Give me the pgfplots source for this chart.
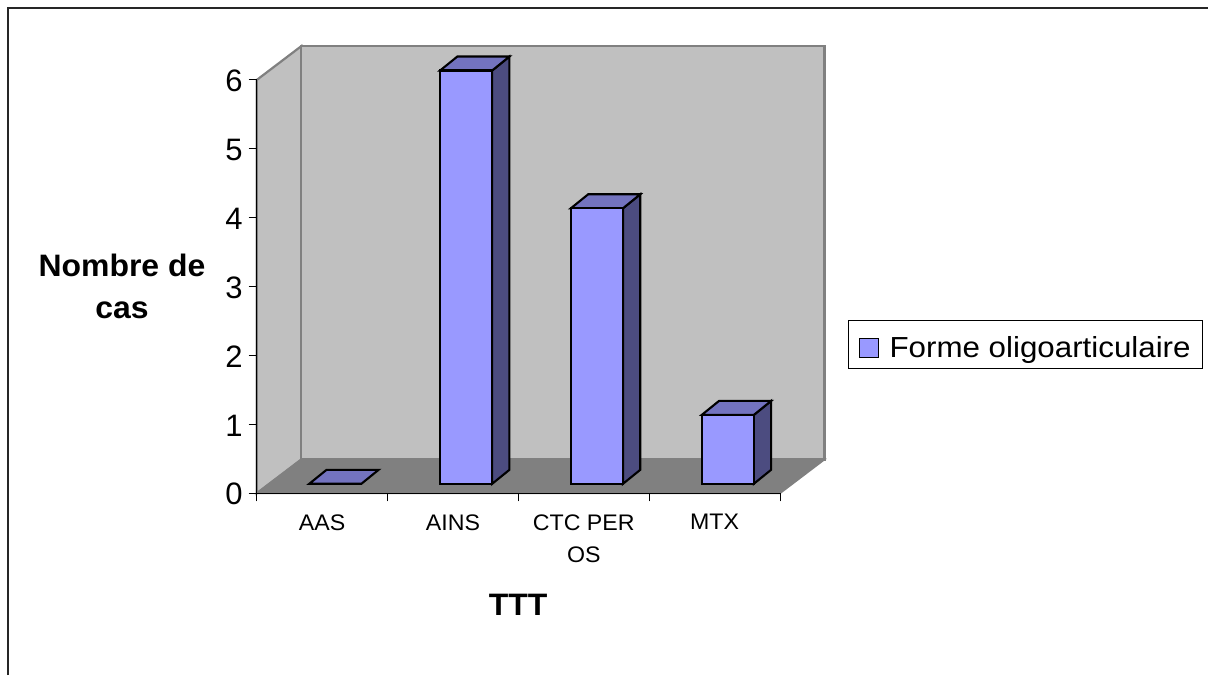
\documentclass[border=0pt]{standalone}
\usepackage{fontspec}
\setmainfont{Liberation Sans}
\newfontfamily\legfont[FakeStretch=1.08]{Liberation Sans}
\newfontfamily\catfont[FakeStretch=1.03]{Liberation Sans}
\newfontfamily\titlefont[FakeStretch=1.03]{Liberation Sans}
\usepackage{pgfplots}
\pgfplotsset{compat=1.18}

\definecolor{wall}{HTML}{C0C0C0}
\definecolor{floorgrey}{HTML}{808080}
\definecolor{barfront}{HTML}{9999FF}
\definecolor{bartop}{HTML}{7373BF}
\definecolor{barside}{HTML}{4C4C80}

\pgfplotsset{
    barface/.style={forget plot,draw=black,line width=2.1pt,xshift=13.2pt,yshift=9.5pt},
}

\begin{document}
\begin{tikzpicture}
    \path[use as bounding box] (0pt,0pt) rectangle (1208pt,675pt);
    % chart area frame, open at the right and at the bottom
    \draw[line width=1.4pt,black!85] (8pt,0pt) -- (8pt,667pt) -- (1208pt,667pt);
    \begin{axis}[
        at={(256.7pt,181.7pt)},
        anchor=south west,
        scale only axis,
        width=523.3pt,
        height=413.3pt,
        xmin=-0.5, xmax=3.5,
        ymin=0, ymax=6,
        clip=false,
        axis on top,
        axis x line*=bottom,
        axis y line*=left,
        axis line style={-,black,line width=1.2pt},
        tick align=outside,
        tick style={black,line width=1pt},
        major tick length=8pt,
        minor tick length=8pt,
        ytick={0,1,2,3,4,5,6},
        xtick={0,1,2,3},
        xticklabels={AAS,AINS,{CTC PER\\OS},MTX},
        minor xtick={-0.5,0.5,1.5,2.5,3.5},
        x tick style={draw=none},
        minor x tick style={draw=black,line width=1pt},
        /pgf/number format/assume math mode=true,
        yticklabel style={font=\fontsize{31}{36}\selectfont,inner sep=0pt,xshift=-6pt,yshift=-1pt},
        xticklabel style={font=\catfont\fontsize{22.5}{32}\selectfont,align=center,anchor=north,yshift=-13pt,inner sep=0pt},
        xlabel={TTT},
        ylabel={Nombre de\\cas},
        xlabel style={font=\titlefont\fontsize{31}{42}\selectfont\bfseries,at={(axis description cs:0.4997,-0.2703)},anchor=center},
        ylabel style={font=\titlefont\fontsize{31}{42}\selectfont\bfseries,at={(axis description cs:-0.2574,0.5016)},anchor=center,rotate=-90,align=center},
        legend style={
            at={(rel axis cs:1.130,0.4193)},
            anchor=north west,
            draw=black,
            line width=1pt,
            font=\legfont\fontsize{29}{34}\selectfont,
            inner xsep=10pt,
            inner ysep=8pt,
        },
        legend image code/.code={
            \path[draw=none,fill=none] (0pt,-9.5pt) rectangle (29pt,9.5pt);
            \draw[draw=black,fill=barfront,line width=1.6pt] (1pt,-19.5pt) rectangle (20pt,-0.5pt);
        },
    ]
    % walls and floor
    \addplot[forget plot,fill=wall,draw=floorgrey,line width=2.2pt] coordinates {
        (-0.5,0) (-0.16,0.49) (-0.16,6.49) (-0.5,6)
    } -- cycle;
    \addplot[forget plot,fill=wall,draw=floorgrey,line width=2.2pt] coordinates {
        (-0.16,0.49) (3.84,0.49) (3.84,6.49) (-0.16,6.49)
    } -- cycle;
    \addplot[forget plot,fill=floorgrey,draw=floorgrey,line width=1.6pt] coordinates {
        (-0.5,0) (3.5,0) (3.84,0.49) (-0.16,0.49)
    } -- cycle;

    % bar sides
    \addplot[barface,fill=barside] coordinates {
        (1.199,0) (1.331,0.203) (1.331,6.203) (1.199,6)
    } -- cycle;
    \addplot[barface,fill=barside] coordinates {
        (2.199,0) (2.331,0.203) (2.331,4.203) (2.199,4)
    } -- cycle;
    \addplot[barface,fill=barside] coordinates {
        (3.199,0) (3.331,0.203) (3.331,1.203) (3.199,1)
    } -- cycle;
    % bar tops
    \addplot[barface,fill=bartop] coordinates {
        (-0.199,0) (0.199,0) (0.331,0.203) (-0.067,0.203)
    } -- cycle;
    \addplot[barface,fill=bartop] coordinates {
        (0.801,6) (1.199,6) (1.331,6.203) (0.933,6.203)
    } -- cycle;
    \addplot[barface,fill=bartop] coordinates {
        (1.801,4) (2.199,4) (2.331,4.203) (1.933,4.203)
    } -- cycle;
    \addplot[barface,fill=bartop] coordinates {
        (2.801,1) (3.199,1) (3.331,1.203) (2.933,1.203)
    } -- cycle;
    % bar fronts
    \addplot[ybar,bar width=52pt,fill=barfront,draw=black,line width=2.1pt,xshift=13.2pt,yshift=9.5pt] coordinates {
        (0,0) (1,6) (2,4) (3,1)
    };
    \addlegendentry{Forme oligoarticulaire}
    \end{axis}
\end{tikzpicture}
\end{document}
